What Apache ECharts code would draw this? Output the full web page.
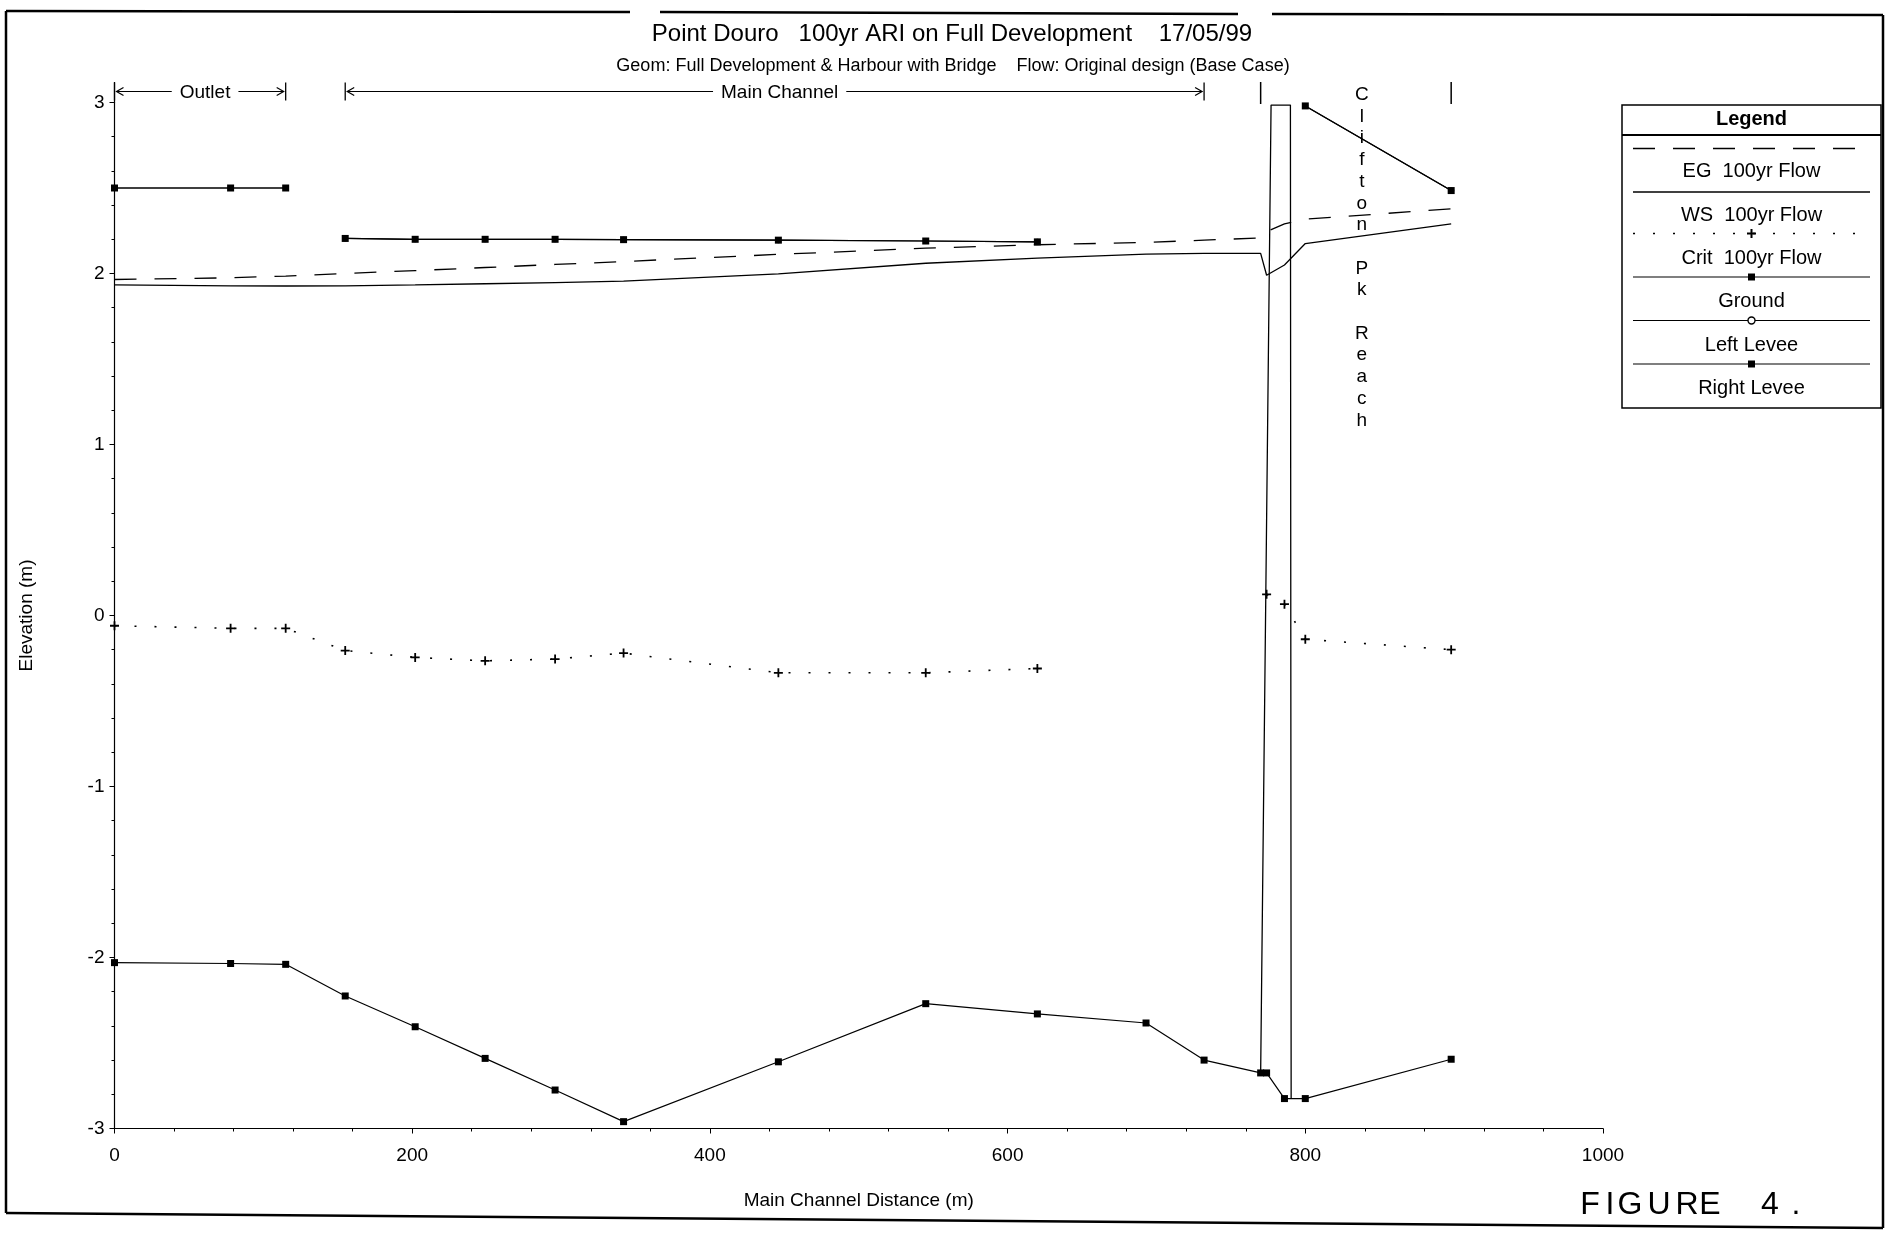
<!DOCTYPE html>
<html><head><meta charset="utf-8">
<script src="https://cdn.jsdelivr.net/npm/echarts@6/dist/echarts.min.js"></script>
<style>html,body{margin:0;padding:0;background:#fff}#c{width:1890px;height:1233px}</style>
</head><body><div id="c"></div>
<script>
// ---- data ----
const stations   = [0, 78, 115, 155, 202, 249, 296, 342, 446, 545, 620, 693, 732, 770, 774, 786, 800, 898];
const egFlow     = [1.965, 1.975, 1.985, 2.0, 2.017, 2.035, 2.053, 2.07, 2.112, 2.148, 2.168, 2.182, 2.195, 2.208, 2.245, 2.29, 2.318, 2.378];
const wsFlow     = [1.933, 1.928, 1.927, 1.928, 1.933, 1.94, 1.947, 1.955, 1.998, 2.06, 2.09, 2.113, 2.118, 2.118, 1.99, 2.05, 2.175, 2.29];
const critFlow   = [-0.06, -0.075, -0.075, -0.205, -0.245, -0.265, -0.255, -0.22, -0.335, -0.335, -0.31, null, null, null, 0.124, 0.066, -0.139, -0.2];
const ground     = [-2.03, -2.035, -2.04, -2.225, -2.405, -2.59, -2.775, -2.96, -2.61, -2.27, -2.33, -2.383, -2.6, -2.675, -2.675, -2.825, -2.825, -2.595];
const leftLevee  = [2.5, 2.5, 2.5, 2.205, 2.2, 2.2, 2.2, 2.198, 2.195, 2.19, 2.185, null, null, null, null, null, 2.98, 2.485];
const rightLevee = [2.5, 2.5, 2.5, 2.205, 2.2, 2.2, 2.2, 2.198, 2.195, 2.19, 2.185, null, null, null, null, null, 2.98, 2.485];
const leveeBreakAfter = [2];          // levee lines are not joined between the Outlet and Main Channel reaches
const bridgeX    = [770, 777, 790, 790.5];
const bridgeY    = [-2.675, 2.985, 2.985, -2.825];
const xTickLabels = [0, 200, 400, 600, 800, 1000];
const yTickLabels = [-3, -2, -1, 0, 1, 2, 3];
const reachNames  = ['Outlet', 'Main Channel'];
const reachFrom   = [0, 155];
const reachTo     = [115, 732];
const reachBars   = [770, 898];
const reachLabelX = 838;
const reachLabel  = 'Clifton Pk Reach';
const legendNames = ['EG  100yr Flow', 'WS  100yr Flow', 'Crit  100yr Flow', 'Ground', 'Left Levee', 'Right Levee'];

const FONT = "'Liberation Sans', Arial, Helvetica, sans-serif";
const pair = (xs, ys, breaks) => {
  const out = [];
  xs.forEach((x, i) => { out.push([x, ys[i]]); if (breaks && breaks.indexOf(i) >= 0) out.push([x, null]); });
  return out;
};
const PLUS = 'path://M4,0h2v4h4v2h-4v4h-2v-4h-4v-2h4z';

const chart = echarts.init(document.getElementById('c'), null, {renderer: 'canvas'});
const axisCommon = {
  axisLine: {show: true, onZero: false, lineStyle: {color: '#000', width: 1.2}},
  axisTick: {show: true, length: 5, lineStyle: {color: '#000', width: 1}},
  minorTick: {show: true, splitNumber: 5, length: 3, lineStyle: {color: '#000', width: 1}},
  splitLine: {show: false},
  nameTextStyle: {color: '#000', fontSize: 19, fontFamily: FONT}
};
const option = {
  animation: false,
  backgroundColor: '#fff',
  grid: {left: 114.5, right: 287, top: 102.5, bottom: 104.5, containLabel: false},
  xAxis: Object.assign({}, axisCommon, {
    type: 'value', min: xTickLabels[0], max: xTickLabels[xTickLabels.length - 1], interval: 200,
    name: 'Main Channel Distance (m)', nameLocation: 'middle', nameGap: 63,
    axisLabel: {color: '#000', fontSize: 19, fontFamily: FONT, margin: 18, formatter: v => String(v)}
  }),
  yAxis: Object.assign({}, axisCommon, {
    type: 'value', min: yTickLabels[0], max: yTickLabels[yTickLabels.length - 1], interval: 1,
    name: 'Elevation (m)', nameLocation: 'middle', nameGap: 78,
    axisLabel: {color: '#000', fontSize: 19, fontFamily: FONT, margin: 10, formatter: v => String(v)}
  }),
  series: [
    {name: legendNames[0], type: 'line', data: pair(stations, egFlow), symbol: 'none',
     lineStyle: {color: '#000', width: 1.3, type: [22, 18]}},
    {name: legendNames[1], type: 'line', data: pair(stations, wsFlow), symbol: 'none',
     lineStyle: {color: '#000', width: 1.3}},
    {name: legendNames[2], type: 'line', data: pair(stations, critFlow), symbol: PLUS, symbolSize: 9,
     connectNulls: false, itemStyle: {color: '#000'},
     lineStyle: {color: '#000', width: 1.6, type: [2, 18]}},
    {name: legendNames[3], type: 'line', data: pair(stations, ground), symbol: 'rect', symbolSize: 7,
     itemStyle: {color: '#000'}, lineStyle: {color: '#000', width: 1.2}},
    {name: legendNames[4], type: 'line', data: pair(stations, leftLevee, leveeBreakAfter), symbol: 'circle', symbolSize: 6,
     connectNulls: false, itemStyle: {color: '#000'}, lineStyle: {color: '#000', width: 1.2}, z: 2},
    {name: legendNames[5], type: 'line', data: pair(stations, rightLevee, leveeBreakAfter), symbol: 'rect', symbolSize: 7,
     connectNulls: false, itemStyle: {color: '#000'}, lineStyle: {color: '#000', width: 1.2}, z: 4},
    {name: 'Bridge', type: 'line', data: pair(bridgeX, bridgeY), symbol: 'none',
     lineStyle: {color: '#000', width: 1.3}}
  ]
};
chart.setOption(option);

const px = v => chart.convertToPixel({xAxisIndex: 0}, v);
const py = v => chart.convertToPixel({yAxisIndex: 0}, v);
const ctx = document.createElement('canvas').getContext('2d');
const measure = (t, f) => { ctx.font = f; return ctx.measureText(t).width; };

const g = [];
const line = (x1, y1, x2, y2, w, dash) => g.push({type: 'line', silent: true,
  shape: {x1, y1, x2, y2}, style: {stroke: '#000', lineWidth: w || 1.2, lineDash: dash || null}});
const text = (t, x, y, size, weight) => g.push({type: 'text', silent: true, x, y,
  style: {text: t, font: (weight ? weight + ' ' : '') + size + 'px ' + FONT,
    fill: '#000', align: 'center', verticalAlign: 'middle'}});

// page border (with scan gaps on the top edge)
line(6, 11, 630, 12, 2.5); line(660, 12, 1238, 14, 2.5); line(1272, 14, 1883, 15, 2.5);
line(6, 11, 6, 1213, 2.5); line(6, 1213, 1883, 1228, 2.5); line(1883, 15, 1883, 1228, 2.5);

// titles
text('Point Douro   100yr ARI on Full Development    17/05/99', 952, 34, 24);
text('Geom: Full Development & Harbour with Bridge    Flow: Original design (Base Case)', 953, 66, 18);

// y axis line extension above top tick
line(px(0), py(3), px(0), 82, 1.2);

// reach rulers
const ry = 91.5, rf = '19px ' + FONT;
reachNames.forEach((nm, i) => {
  const a = px(reachFrom[i]), b = px(reachTo[i]);
  const c = (a + b) / 2 + 5, w = measure(nm, rf);
  line(a, ry - 9, a, ry + 9, 1.3); line(b, ry - 9, b, ry + 9, 1.3);
  g.push({type: 'polyline', silent: true, shape: {points: [[a + 9, ry - 4], [a + 2, ry], [a + 9, ry + 4]]}, style: {stroke: '#000', fill: null, lineWidth: 1.2}});
  g.push({type: 'polyline', silent: true, shape: {points: [[b - 9, ry - 4], [b - 2, ry], [b - 9, ry + 4]]}, style: {stroke: '#000', fill: null, lineWidth: 1.2}});
  line(a + 2, ry, c - w / 2 - 8, ry, 1.1);
  line(c + w / 2 + 8, ry, b - 2, ry, 1.1);
  text(nm, c, ry + 1, 19);
});
reachBars.forEach(v => line(px(v), 82, px(v), 104, 1.5));
g.push({type: 'text', silent: true, x: px(reachLabelX), y: 84,
  style: {text: reachLabel.split('').join('\n'), font: '19px ' + FONT, fill: '#000',
    align: 'center', verticalAlign: 'top', lineHeight: 21.7}});

// legend box
const L = {x: 1622, y: 105, w: 259, h: 303, s1: 1633, s2: 1870, cx: 1751.5};
g.push({type: 'rect', silent: true, z: 10, shape: {x: L.x, y: L.y, width: L.w, height: L.h},
  style: {stroke: '#000', fill: '#fff', lineWidth: 1.5}});
const lz = 11;
const lline = (y, w, dash) => g.push({type: 'line', silent: true, z: lz, shape: {x1: L.s1, y1: y, x2: L.s2, y2: y},
  style: {stroke: '#000', lineWidth: w, lineDash: dash || null}});
const ltext = (t, y, weight) => g.push({type: 'text', silent: true, z: lz, x: L.cx, y,
  style: {text: t, font: (weight ? weight + ' ' : '') + '20px ' + FONT, fill: '#000', align: 'center', verticalAlign: 'middle'}});
ltext('Legend', 119, 'bold');
g.push({type: 'line', silent: true, z: lz, shape: {x1: L.x, y1: 135, x2: L.x + L.w, y2: 135}, style: {stroke: '#000', lineWidth: 2}});
const sampleY = [148.5, 192, 233.5, 277, 320.5, 364];
const labelY  = [171.5, 215, 258, 301.5, 345, 388];
lline(sampleY[0], 1.3, [22, 18]);
lline(sampleY[1], 1.3);
lline(sampleY[2], 1.6, [2, 18]);
{
  const c = L.cx, y = sampleY[2];
  g.push({type: 'polygon', silent: true, z: lz, shape: {points: [
    [c - 1, y - 4.5], [c + 1, y - 4.5], [c + 1, y - 1], [c + 4.5, y - 1], [c + 4.5, y + 1], [c + 1, y + 1],
    [c + 1, y + 4.5], [c - 1, y + 4.5], [c - 1, y + 1], [c - 4.5, y + 1], [c - 4.5, y - 1], [c - 1, y - 1]]},
    style: {fill: '#000'}});
}
lline(sampleY[3], 1.2);
g.push({type: 'rect', silent: true, z: lz, shape: {x: L.cx - 3.5, y: sampleY[3] - 3.5, width: 7, height: 7}, style: {fill: '#000'}});
lline(sampleY[4], 1.2);
g.push({type: 'circle', silent: true, z: lz + 1, shape: {cx: L.cx, cy: sampleY[4], r: 3.5}, style: {fill: '#fff', stroke: '#000', lineWidth: 1.4}});
lline(sampleY[5], 1.2);
g.push({type: 'rect', silent: true, z: lz, shape: {x: L.cx - 3.5, y: sampleY[5] - 3.5, width: 7, height: 7}, style: {fill: '#000'}});
legendNames.forEach((nm, i) => ltext(nm, labelY[i]));

// handwritten figure caption
const figChars = ['F', 'I', 'G', 'U', 'R', 'E', '4', '.'];
const figX = [1590, 1610, 1630, 1659, 1687, 1710, 1770, 1796];
figChars.forEach((ch, i) => text(ch, figX[i], 1205, 32));

chart.setOption({graphic: {elements: g}});
</script>
</body></html>
